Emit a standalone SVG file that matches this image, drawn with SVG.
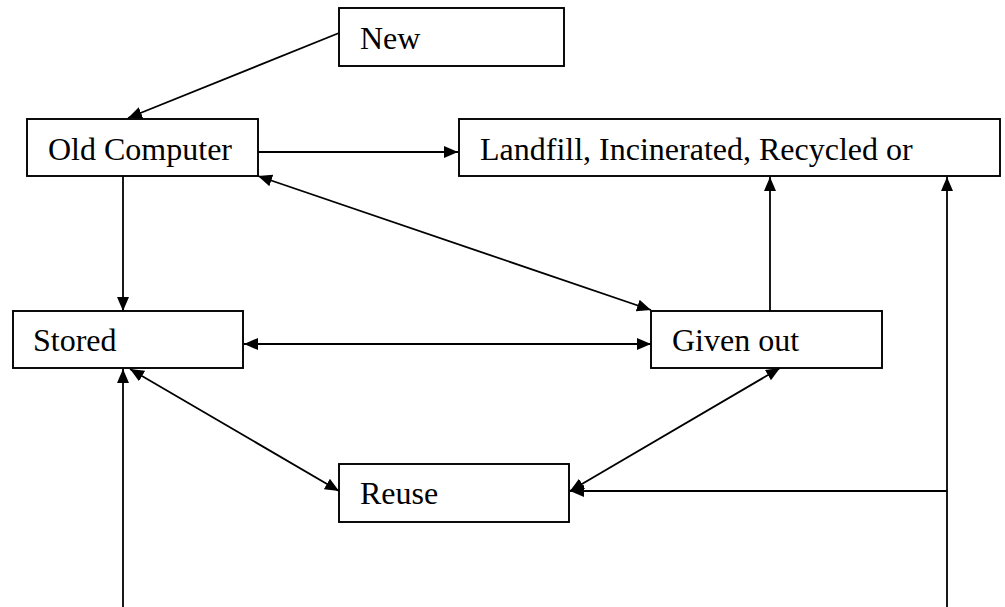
<svg xmlns="http://www.w3.org/2000/svg" width="1005" height="607" viewBox="0 0 1005 607">
<style>
.box{fill:#fff;stroke:#000;stroke-width:1.9}
.lbl{font-family:"Liberation Serif","Times New Roman",serif;font-size:32px;fill:#000}
.ln{stroke:#000;stroke-width:1.8;fill:none}
</style>
<defs>
<marker id="ah" markerUnits="userSpaceOnUse" markerWidth="15" markerHeight="13" refX="14" refY="6" orient="auto-start-reverse">
<path d="M0,0 L14,6 L0,12 z" fill="#000"/>
</marker>
</defs>
<rect width="1005" height="607" fill="#fff"/>
<g id="connectors">
<line class="ln" x1="339" y1="33" x2="128" y2="118" marker-end="url(#ah)"/>
<line class="ln" x1="254" y1="152" x2="458" y2="152" marker-end="url(#ah)"/>
<line class="ln" x1="258" y1="176" x2="651" y2="310" marker-start="url(#ah)" marker-end="url(#ah)"/>
<line class="ln" x1="123" y1="176" x2="123" y2="311" marker-end="url(#ah)"/>
<line class="ln" x1="244" y1="344" x2="651" y2="344" marker-start="url(#ah)" marker-end="url(#ah)"/>
<line class="ln" x1="130" y1="369" x2="339" y2="491" marker-start="url(#ah)" marker-end="url(#ah)"/>
<line class="ln" x1="123" y1="607" x2="123" y2="369" marker-end="url(#ah)"/>
<line class="ln" x1="770" y1="311" x2="770" y2="177" marker-end="url(#ah)"/>
<line class="ln" x1="780" y1="368" x2="570" y2="491" marker-start="url(#ah)" marker-end="url(#ah)"/>
<line class="ln" x1="947" y1="607" x2="947" y2="177" marker-end="url(#ah)"/>
<line class="ln" x1="947" y1="491" x2="570" y2="491" marker-end="url(#ah)"/>
</g>
<g id="new"><rect class="box" x="339" y="8" width="225" height="58"/><text class="lbl" x="360" y="49">New</text></g>
<g id="old-computer"><rect class="box" x="27" y="119" width="231" height="57"/><text class="lbl" x="48" y="160">Old Computer</text></g>
<g id="landfill"><rect class="box" x="459" y="119" width="541" height="57"/><text class="lbl" x="480" y="160">Landfill, Incinerated, Recycled or</text></g>
<g id="stored"><rect class="box" x="13" y="311" width="230" height="57"/><text class="lbl" x="33" y="351">Stored</text></g>
<g id="given-out"><rect class="box" x="651" y="311" width="231" height="57"/><text class="lbl" x="672" y="351">Given out</text></g>
<g id="reuse"><rect class="box" x="339" y="464" width="230" height="58"/><text class="lbl" x="360" y="504">Reuse</text></g>
</svg>
